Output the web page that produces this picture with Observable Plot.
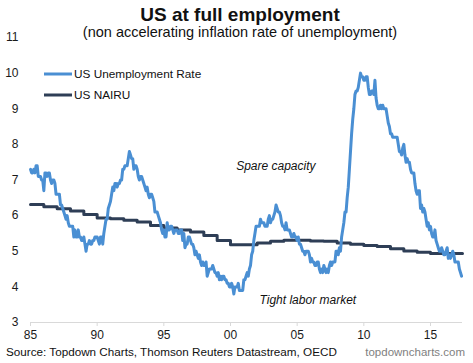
<!DOCTYPE html>
<html>
<head>
<meta charset="utf-8">
<script src="https://cdn.jsdelivr.net/npm/d3@7"></script>
<script src="https://cdn.jsdelivr.net/npm/@observablehq/plot@0.6"></script>
<style>
  html, body { margin: 0; padding: 0; background: #fff; }
  #wrap { position: relative; width: 473px; height: 363px; font-family: Arial, "Liberation Sans", sans-serif; }
  #wrap > svg.overlay { position: absolute; left: 0; top: 0; pointer-events: none; }
</style>
</head>
<body>
<div id="wrap"></div>
<script>
// ---- Data ----
const title = "US at full employment";
const subtitle = "(non accelerating inflation rate of unemployment)";
const seriesNames = ["US Unemployment Rate", "US NAIRU"];
const seriesColors = ["#4a8fd3", "#2e3e56"];
const sourceText = "Source: Topdown Charts, Thomson Reuters Datastream, OECD";
const brandText = "topdowncharts.com";

// US unemployment rate, monthly, starting Jan 1985
const unemploymentStart = 1985;
const unemployment = [
  7.3,7.2,7.2,7.3,7.2,7.4,7.4,7.1,7.1,7.1,7.0,7.0, // 1985
  6.7,7.2,7.2,7.1,7.2,7.2,7.0,6.9,7.0,7.0,6.9,6.6, // 1986
  6.6,6.6,6.6,6.3,6.3,6.2,6.1,6.0,5.9,6.0,5.8,5.7, // 1987
  5.7,5.7,5.7,5.4,5.6,5.4,5.4,5.6,5.4,5.4,5.3,5.3, // 1988
  5.4,5.2,5.0,5.2,5.2,5.3,5.2,5.2,5.3,5.3,5.4,5.4, // 1989
  5.4,5.3,5.2,5.4,5.4,5.2,5.5,5.7,5.9,5.9,6.2,6.3, // 1990
  6.4,6.6,6.8,6.7,6.9,6.9,6.8,6.9,6.9,7.0,7.0,7.3, // 1991
  7.3,7.4,7.4,7.4,7.6,7.8,7.7,7.6,7.6,7.3,7.4,7.4, // 1992
  7.3,7.1,7.0,7.1,7.1,7.0,6.9,6.8,6.7,6.8,6.6,6.5, // 1993
  6.6,6.6,6.5,6.4,6.1,6.1,6.1,6.0,5.9,5.8,5.6,5.5, // 1994
  5.6,5.4,5.4,5.8,5.6,5.6,5.7,5.7,5.6,5.5,5.6,5.6, // 1995
  5.6,5.5,5.5,5.6,5.6,5.3,5.5,5.1,5.2,5.2,5.4,5.4, // 1996
  5.3,5.2,5.2,5.1,4.9,5.0,4.9,4.8,4.9,4.7,4.6,4.7, // 1997
  4.6,4.6,4.7,4.3,4.4,4.5,4.5,4.5,4.6,4.5,4.4,4.4, // 1998
  4.3,4.4,4.2,4.3,4.2,4.3,4.3,4.2,4.2,4.1,4.1,4.0, // 1999
  4.0,4.1,4.0,3.8,4.0,4.0,4.0,4.1,3.9,3.9,3.9,3.9, // 2000
  4.2,4.2,4.3,4.4,4.3,4.5,4.6,4.9,5.0,5.3,5.5,5.7, // 2001
  5.7,5.7,5.7,5.9,5.8,5.8,5.8,5.7,5.7,5.7,5.9,6.0, // 2002
  5.8,5.9,5.9,6.0,6.1,6.3,6.2,6.1,6.1,6.0,5.8,5.7, // 2003
  5.7,5.6,5.8,5.6,5.6,5.6,5.5,5.4,5.4,5.5,5.4,5.4, // 2004
  5.3,5.4,5.2,5.2,5.1,5.0,5.0,4.9,5.0,5.0,5.0,4.9, // 2005
  4.7,4.8,4.7,4.7,4.6,4.6,4.7,4.7,4.5,4.4,4.5,4.4, // 2006
  4.6,4.5,4.4,4.5,4.4,4.6,4.7,4.6,4.7,4.7,4.7,5.0, // 2007
  5.0,4.9,5.1,5.0,5.4,5.6,5.8,6.1,6.1,6.5,6.8,7.3, // 2008
  7.8,8.3,8.7,9.0,9.4,9.5,9.5,9.6,9.8,10.0,9.9,9.9, // 2009
  9.8,9.8,9.9,9.9,9.6,9.4,9.4,9.5,9.5,9.4,9.8,9.3, // 2010
  9.1,9.0,9.0,9.1,9.0,9.1,9.0,9.0,9.0,8.8,8.6,8.5, // 2011
  8.3,8.3,8.2,8.2,8.2,8.2,8.2,8.0,7.8,7.8,7.7,7.9, // 2012
  8.0,7.7,7.5,7.6,7.5,7.5,7.3,7.2,7.2,7.2,6.9,6.7, // 2013
  6.6,6.7,6.7,6.2,6.3,6.1,6.2,6.1,5.9,5.7,5.8,5.6, // 2014
  5.7,5.5,5.4,5.4,5.6,5.3,5.2,5.1,5.0,5.0,5.1,5.0, // 2015
  4.9,4.9,5.0,5.1,4.8,4.9,4.8,4.9,5.0,4.9,4.7,4.7, // 2016
  4.7,4.7,4.5,4.4,4.3                               // 2017
];

// US NAIRU (OECD), annual
const nairuYears = [1985,1986,1987,1988,1989,1990,1991,1992,1993,1994,1995,1996,1997,1998,1999,2000,2001,2002,2003,2004,2005,2006,2007,2008,2009,2010,2011,2012,2013,2014,2015,2016,2017];
const nairu = [6.31,6.25,6.19,6.13,6.03,5.93,5.91,5.87,5.82,5.72,5.65,5.60,5.54,5.44,5.30,5.18,5.18,5.23,5.28,5.31,5.31,5.29,5.28,5.23,5.20,5.16,5.13,5.07,5.01,4.97,4.94,4.94,4.94];
const nairuEnd = 2017.4;

const xTicks = [1985,1990,1995,2000,2005,2010,2015];
const yTicks = [3,4,5,6,7,8,9,10,11];

const annotations = [
  {label: "Spare capacity", x: 2003.4, y: 7.38},
  {label: "Tight labor market", x: 2005.8, y: 3.62}
];

// ---- Build tables ----
const urData = unemployment.map((v, i) => ({x: unemploymentStart + i / 12, y: v}));
const nairuData = nairuYears.map((yr, i) => ({x: yr, y: nairu[i]}));
nairuData.push({x: nairuEnd, y: nairu[nairu.length - 1]});

const font = "Arial, 'Liberation Sans', sans-serif";

const chart = Plot.plot({
  width: 473,
  height: 363,
  marginLeft: 30,
  marginRight: 11,
  marginTop: 37,
  marginBottom: 41,
  style: {fontFamily: font, fontSize: "12px", color: "#1a1a1a", background: "white", overflow: "visible"},
  x: {domain: [1985, 2017.4]},
  y: {domain: [3, 11]},
  marks: [
    Plot.ruleY([3], {stroke: "#d9d9d9", strokeWidth: 1.2}),
    Plot.axisX({ticks: xTicks, tickSize: 4, tickPadding: 4, stroke: "#d9d9d9", fontSize: 12,
      tickFormat: d => String(d % 100).padStart(2, "0"), label: null}),
    Plot.axisY({ticks: yTicks, tickSize: 0, tickPadding: 12, fontSize: 12, label: null}),
    Plot.line(nairuData, {x: "x", y: "y", curve: "step-after", stroke: seriesColors[1], strokeWidth: 3}),
    Plot.line(urData, {x: "x", y: "y", stroke: seriesColors[0], strokeWidth: 3, strokeLinejoin: "round"}),
    Plot.text(annotations, {x: "x", y: "y", text: "label", fontStyle: "italic", fontSize: 12, fill: "#111"})
  ]
});

const wrap = document.getElementById("wrap");
wrap.appendChild(chart);

// Overlay: titles, legend, footer
const ov = d3.select(wrap).append("svg").attr("class", "overlay")
  .attr("width", 473).attr("height", 363).style("font-family", font);

ov.append("text").attr("x", 240).attr("y", 21).attr("text-anchor", "middle")
  .attr("font-size", 19).attr("font-weight", "bold").attr("fill", "#111").text(title);
ov.append("text").attr("x", 240).attr("y", 37).attr("text-anchor", "middle")
  .attr("font-size", 14.5).attr("fill", "#111").text(subtitle);

seriesNames.forEach((name, i) => {
  const y = 74 + i * 21;
  ov.append("line").attr("x1", 44).attr("x2", 72).attr("y1", y).attr("y2", y)
    .attr("stroke", seriesColors[i]).attr("stroke-width", 3);
  ov.append("text").attr("x", 74).attr("y", y).attr("dy", "0.35em")
    .attr("font-size", 11.8).attr("fill", "#111").text(name);
});

ov.append("text").attr("x", 6).attr("y", 356).attr("font-size", 11.7)
  .attr("fill", "#111").text(sourceText);
ov.append("text").attr("x", 465).attr("y", 356).attr("text-anchor", "end").attr("font-size", 11.5)
  .attr("fill", "#7f7f7f").text(brandText);
</script>
</body>
</html>
